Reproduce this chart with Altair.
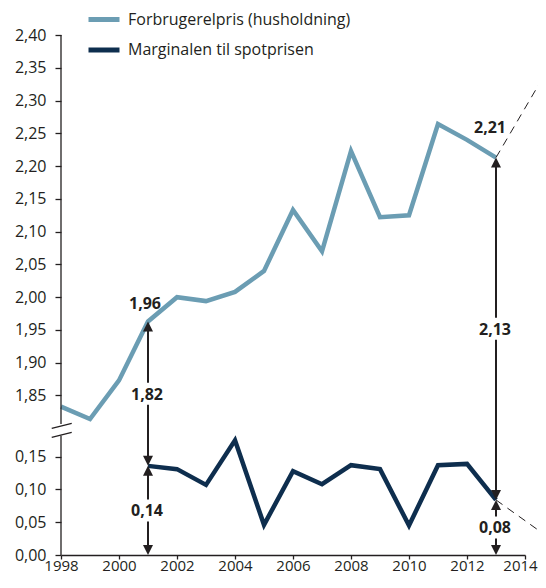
import altair as alt
import pandas as pd

# ---------------- data ----------------
SERIES = ["Forbrugerelpris (husholdning)", "Marginalen til spotprisen"]
COLORS = ["#6b9db3", "#0e2e4e"]

years_price = list(range(1998, 2014))
price = [1.833, 1.814, 1.873, 1.963, 2.000, 1.994, 2.008, 2.040,
         2.133, 2.070, 2.223, 2.122, 2.125, 2.264, 2.240, 2.213]

years_margin = list(range(2001, 2014))
margin = [0.136, 0.131, 0.107, 0.175, 0.046, 0.128, 0.108, 0.137,
          0.131, 0.045, 0.137, 0.139, 0.084]

# dashed extrapolation from 2013 to the right edge
ext_year = 2014.71
ext_price = 2.342
ext_margin = 0.030

# arrows (year, label)
arrow_years = [2001, 2001, 2013, 2013]
arrow_labels = ["0,14", "1,82", "0,08", "2,13"]
value_labels = ["1,96", "2,21"]

y_ticks_low = [0.00, 0.05, 0.10, 0.15]
y_ticks_high = [1.85, 1.90, 1.95, 2.00, 2.05, 2.10, 2.15, 2.20, 2.25, 2.30, 2.35, 2.40]
x_ticks = list(range(1998, 2015, 2))

# ---------------- broken axis transform ----------------
OFFSET = 1.6066          # upper part shifted down so 1.85 sits just above 0.15
TOP = 2.40 - OFFSET
H = 520
PX = TOP / H             # data units per pixel
BREAK_LO = 0.182
BREAK_HI = 0.200
FONT = "Open Sans"
INK = "#231f20"
FS = 16


def tr(v):
    return v - OFFSET if v > 1 else v


lines_df = pd.DataFrame(
    [{"year": y, "v": tr(v), "series": SERIES[0]} for y, v in zip(years_price, price)]
    + [{"year": y, "v": tr(v), "series": SERIES[1]} for y, v in zip(years_margin, margin)]
)

ext_df = pd.DataFrame([
    {"year": 2013, "v": tr(price[-1]), "g": "a"},
    {"year": ext_year, "v": tr(ext_price), "g": "a"},
    {"year": 2013, "v": tr(margin[-1]), "g": "b"},
    {"year": ext_year, "v": tr(ext_margin), "g": "b"},
])

m2001 = margin[years_margin.index(2001)]
p2001 = price[years_price.index(2001)]
lows = [0.0, tr(m2001), 0.0, tr(margin[-1])]
highs = [tr(m2001), tr(p2001), tr(margin[-1]), tr(price[-1])]

HEAD = 9 * PX
GAP = 11 * PX
stem_rows, up_rows, down_rows, lab_rows = [], [], [], []
for yr, lo, hi, lab in zip(arrow_years, lows, highs, arrow_labels):
    mid = (lo + hi) / 2
    stem_rows.append({"year": yr, "a": lo + HEAD, "b": mid - GAP})
    stem_rows.append({"year": yr, "a": mid + GAP, "b": hi - HEAD})
    up_rows.append({"year": yr, "v": hi})
    down_rows.append({"year": yr, "v": lo})
    lab_rows.append({"year": yr, "v": mid, "label": lab})

stem_df = pd.DataFrame(stem_rows)
up_df = pd.DataFrame(up_rows)
down_df = pd.DataFrame(down_rows)
lab_df = pd.DataFrame(lab_rows)

axis_df = pd.DataFrame([
    {"year": 1998, "a": 0.0, "b": BREAK_LO},
    {"year": 1998, "a": BREAK_HI, "b": TOP},
])
slash_df = pd.DataFrame([
    {"x1": 1997.68, "x2": 1998.37, "y1": 0.1933, "y2": 0.2009},
    {"x1": 1997.68, "x2": 1998.37, "y1": 0.1796, "y2": 0.1872},
])

x_scale = alt.Scale(domain=[1998, 2014], nice=False, zero=False)
y_scale = alt.Scale(domain=[0, TOP + 1e-6], nice=False, zero=False)

y_values = y_ticks_low + [tr(v) for v in y_ticks_high]
label_expr = ("replace(format(datum.value > 0.2 ? datum.value + %s : datum.value, '.2f'), '.', ',')"
              % OFFSET)

x_enc = alt.X("year:Q", scale=x_scale,
              axis=alt.Axis(values=x_ticks, tickCount=len(x_ticks) + 4, format="d",
                            title=None, grid=False,
                            tickSize=4, labelPadding=-1, labelFontSize=15,
                            labelOffset={"condition": {"test": "datum.value >= 2014",
                                                       "value": -5},
                                         "value": 0},
                            labelFlush=False, labelOverlap=False,
                            domainColor=INK, tickColor=INK, labelColor=INK,
                            domainWidth=1.3, tickWidth=1.3))
y_enc = alt.Y("v:Q", scale=y_scale,
              axis=alt.Axis(values=y_values, tickCount=len(y_values) + 4,
                            labelExpr=label_expr, title=None,
                            grid=False, domain=False, tickSize=6, labelPadding=9,
                            labelFontSize=FS, labelFlush=False, labelOverlap=False,
                            tickColor=INK, labelColor=INK, tickWidth=1.3))

lines = alt.Chart(lines_df).mark_line(strokeWidth=4.5).encode(
    x=x_enc, y=y_enc,
    color=alt.Color("series:N",
                    scale=alt.Scale(domain=SERIES, range=COLORS),
                    legend=alt.Legend(orient="none", legendX=25, legendY=-33.5,
                                      title=None, symbolType="stroke",
                                      symbolSize=961, symbolStrokeWidth=5,
                                      labelFontSize=16, labelOffset=6,
                                      rowPadding=2.5, padding=0,
                                      labelColor=INK, labelLimit=400)),
)

ext = alt.Chart(ext_df).mark_line(strokeWidth=1, strokeDash=[8, 6], color=INK).encode(
    x="year:Q", y="v:Q", detail="g:N")

yaxis_line = alt.Chart(axis_df).mark_rule(strokeWidth=1.3, color=INK).encode(
    x="year:Q", y="a:Q", y2="b:Q")

slashes = alt.Chart(slash_df).mark_rule(strokeWidth=1.3, color=INK).encode(
    x="x1:Q", x2="x2:Q", y="y1:Q", y2="y2:Q")

stems = alt.Chart(stem_df).mark_rule(strokeWidth=2, color=INK).encode(
    x="year:Q", y="a:Q", y2="b:Q")

UP = "M0,0L0.5,1L-0.5,1Z"
DOWN = "M0,0L0.5,-1L-0.5,-1Z"
ups = alt.Chart(up_df).mark_point(shape=UP, size=400, filled=True, color=INK,
                                  opacity=1, strokeWidth=0).encode(x="year:Q", y="v:Q")
downs = alt.Chart(down_df).mark_point(shape=DOWN, size=400, filled=True, color=INK,
                                      opacity=1, strokeWidth=0).encode(x="year:Q", y="v:Q")

arrow_text = alt.Chart(lab_df).mark_text(fontSize=FS, fontWeight="bold", color=INK,
                                         baseline="middle", dx=-1, dy=1).encode(
    x="year:Q", y="v:Q", text="label:N")

lab196 = alt.Chart(pd.DataFrame([{"year": 2001, "v": tr(p2001), "label": value_labels[0]}])
                   ).mark_text(fontSize=FS, fontWeight="bold", color=INK,
                               baseline="middle", dx=-3, dy=-17).encode(
    x="year:Q", y="v:Q", text="label:N")
lab221 = alt.Chart(pd.DataFrame([{"year": 2013, "v": tr(price[-1]), "label": value_labels[1]}])
                   ).mark_text(fontSize=FS, fontWeight="bold", color=INK,
                               baseline="middle", dx=-6, dy=-30).encode(
    x="year:Q", y="v:Q", text="label:N")

chart = alt.layer(
    lines, ext, yaxis_line, slashes, stems, ups, downs, arrow_text, lab196, lab221
).properties(
    width=464, height=H,
    autosize=alt.AutoSizeParams(type="none"),
    padding={"left": 53, "top": 27, "right": 13, "bottom": 21},
).configure(font=FONT).configure_view(stroke=None)

chart.save("out.html", embed_options={"renderer": "svg", "actions": False})
